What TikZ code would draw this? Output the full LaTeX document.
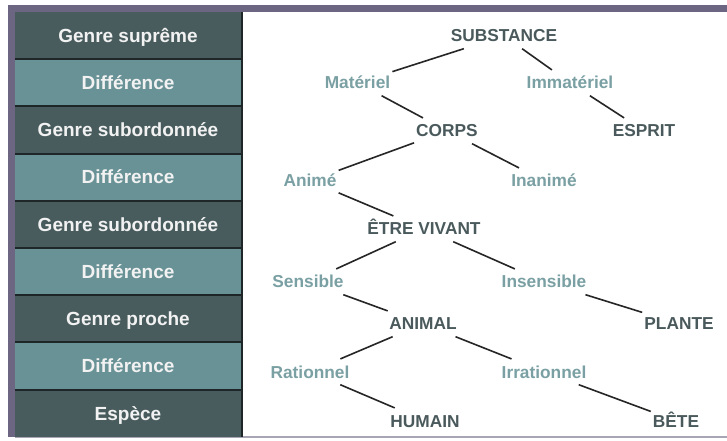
\documentclass[tikz,border=0pt]{standalone}
\usepackage{fontspec}
\setmainfont{Liberation Sans}
\definecolor{framec}{HTML}{6C6682}
\definecolor{rowdarkc}{HTML}{485C5E}
\definecolor{rowlightc}{HTML}{689296}
\definecolor{genusc}{HTML}{4A5A5C}
\definecolor{diffc}{HTML}{7AA0A3}
\definecolor{edgec}{HTML}{262626}
\definecolor{rowtextc}{HTML}{F2F2F2}
\definecolor{sepc}{HTML}{1E2628}
\definecolor{bottomc}{HTML}{A8A6B4}
\tikzset{
  rowbox/.style={minimum width=226bp, minimum height=47.2bp, inner sep=0pt, outer sep=0pt,
    text=rowtextc, font=\fontsize{19bp}{19bp}\selectfont\bfseries, text height=13.6bp, text depth=0pt},
  rowdark/.style={rowbox, fill=rowdarkc},
  rowlight/.style={rowbox, fill=rowlightc},
  rowsep/.style={draw=sepc, line width=2bp},
  treelabel/.style={font=\fontsize{17.3bp}{17.3bp}\selectfont\bfseries, text height=12.4bp, text depth=0pt,
    inner xsep=2bp, inner ysep=6.5bp},
  genus/.style={treelabel, text=genusc},
  diff/.style={treelabel, text=diffc},
  link/.style={draw=edgec, line width=1.6bp}
}
\begin{document}
\begin{tikzpicture}[x=1bp,y=-1bp]
\useasboundingbox (0,0) rectangle (727,441);
\fill[white] (0,0) rectangle (727,441);
% frame
\fill[framec] (8,5) rectangle (727,12);
\fill[framec] (8,5) rectangle (15,437);
\fill[bottomc] (15,436) rectangle (727,438);
% left column rows
\node[rowdark]  (r1) at (128,35.6)  {Genre suprême};
\node[rowlight] (r2) at (128,82.8)  {Différence};
\node[rowdark]  (r3) at (128,130.0) {Genre subordonnée};
\node[rowlight] (r4) at (128,177.2) {Différence};
\node[rowdark]  (r5) at (128,224.4) {Genre subordonnée};
\node[rowlight] (r6) at (128,271.6) {Différence};
\node[rowdark]  (r7) at (128,318.8) {Genre proche};
\node[rowlight] (r8) at (128,366.0) {Différence};
\node[rowdark]  (r9) at (128,413.2) {Espèce};
\foreach \a in {r1,r2,r3,r4,r5,r6,r7,r8}{
  \draw[rowsep] (\a.south west) -- (\a.south east);
}
\draw[draw=sepc, line width=2bp] (r1.north east) ++(1,0) coordinate (vtop) (r9.south east) ++(1,0) coordinate (vbot);
\draw[draw=sepc, line width=2bp] (vtop) -- (vbot);
% tree
\node[genus] (substance) at (504,35.8)  {SUBSTANCE};
\node[diff]  (materiel)  at (357.5,82.8) {Matériel};
\node[diff]  (immateriel) at (570,82.8) {Immatériel};
\node[genus] (corps)     at (447,130.8) {CORPS};
\node[genus] (esprit)    at (644,130.8) {ESPRIT};
\node[diff]  (anime)     at (310,180.8) {Animé};
\node[diff]  (inanime)   at (544,180.8) {Inanimé};
\node[genus] (etre)      at (424,228.8) {ÊTRE VIVANT};
\node[diff]  (sensible)  at (308,281.8) {Sensible};
\node[diff]  (insensible) at (544,281.8) {Insensible};
\node[genus] (animal)    at (423,323.8) {ANIMAL};
\node[genus] (plante)    at (679,323.8) {PLANTE};
\node[diff]  (rationnel) at (310,371.8) {Rationnel};
\node[diff]  (irrationnel) at (544,371.8) {Irrationnel};
\node[genus] (humain)    at (425,420.8) {HUMAIN};
\node[genus] (bete)      at (676,420.8) {BÊTE};
\draw[link] (substance) -- (materiel);
\draw[link] (substance) -- (immateriel);
\draw[link] (materiel) -- (corps);
\draw[link] (immateriel) -- (esprit);
\draw[link] (corps) -- (anime);
\draw[link] (corps) -- (inanime);
\draw[link] (anime) -- (etre);
\draw[link] (etre) -- (sensible);
\draw[link] (etre) -- (insensible);
\draw[link] (sensible) -- (animal);
\draw[link] (insensible) -- (plante);
\draw[link] (animal) -- (rationnel);
\draw[link] (animal) -- (irrationnel);
\draw[link] (rationnel) -- (humain);
\draw[link] (irrationnel) -- (bete);
\end{tikzpicture}
\end{document}
